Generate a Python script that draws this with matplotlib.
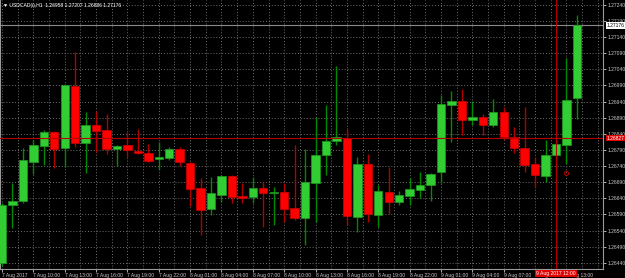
import matplotlib
matplotlib.use("Agg")
import matplotlib.pyplot as plt
import matplotlib.transforms as mtransforms
import numpy as np

# hourly USDCAD candles, 7 Aug 07:00 .. 9 Aug 14:00
opens = [1.26440, 1.26620, 1.26632, 1.26753, 1.26802, 1.26846, 1.26796, 1.26988,
         1.26812, 1.26868, 1.26852, 1.26793, 1.26806, 1.26787, 1.26781, 1.26762,
         1.26765, 1.26793, 1.26750, 1.26672, 1.26607, 1.26651, 1.26709, 1.26647,
         1.26644, 1.26672, 1.26657, 1.26660, 1.26610, 1.26579, 1.26688, 1.26775,
         1.26818, 1.26827, 1.26582, 1.26747, 1.26589, 1.26660, 1.26629, 1.26647,
         1.26666, 1.26682, 1.26722, 1.26930, 1.26942, 1.26883, 1.26892, 1.26868,
         1.26908, 1.26830, 1.26796, 1.26747, 1.26709, 1.26775, 1.26806, 1.26950]
highs = [1.26626, 1.26688, 1.26796, 1.26821, 1.26852, 1.26849, 1.26995, 1.27094,
         1.26908, 1.26911, 1.26902, 1.26806, 1.26846, 1.26855, 1.26809, 1.26815,
         1.26799, 1.26799, 1.26753, 1.26703, 1.26706, 1.26713, 1.26713, 1.26688,
         1.26706, 1.26694, 1.26675, 1.26688, 1.26806, 1.26793, 1.26892, 1.26930,
         1.27050, 1.26855, 1.26768, 1.26778, 1.26682, 1.26737, 1.26663, 1.26703,
         1.26722, 1.26719, 1.26961, 1.26973, 1.26979, 1.26942, 1.26902, 1.26948,
         1.26923, 1.26861, 1.26923, 1.26768, 1.26821, 1.26812, 1.27075, 1.27207]
lows = [1.26430, 1.26548, 1.26626, 1.26716, 1.26744, 1.26734, 1.26737, 1.26799,
        1.26719, 1.26784, 1.26778, 1.26740, 1.26768, 1.26778, 1.26753, 1.26728,
        1.26759, 1.26740, 1.26616, 1.26527, 1.26589, 1.26629, 1.26626, 1.26626,
        1.26626, 1.26551, 1.26557, 1.26567, 1.26573, 1.26496, 1.26567, 1.26713,
        1.26806, 1.26557, 1.26536, 1.26567, 1.26551, 1.26592, 1.26620, 1.26620,
        1.26641, 1.26632, 1.26688, 1.26815, 1.26837, 1.26868, 1.26837, 1.26861,
        1.26821, 1.26781, 1.26722, 1.26672, 1.26691, 1.26771, 1.26747, 1.26886]
closes = [1.26620, 1.26632, 1.26759, 1.26806, 1.26846, 1.26793, 1.26992, 1.26812,
          1.26868, 1.26849, 1.26793, 1.26802, 1.26790, 1.26781, 1.26756, 1.26768,
          1.26793, 1.26753, 1.26669, 1.26604, 1.26657, 1.26709, 1.26644, 1.26641,
          1.26672, 1.26657, 1.26660, 1.26607, 1.26579, 1.26691, 1.26775, 1.26818,
          1.26830, 1.26585, 1.26747, 1.26592, 1.26663, 1.26629, 1.26651, 1.26669,
          1.26682, 1.26716, 1.26933, 1.26942, 1.26883, 1.26892, 1.26868, 1.26908,
          1.26830, 1.26796, 1.26744, 1.26713, 1.26775, 1.26809, 1.26945, 1.27176]

price_levels = [1.26440, 1.26490, 1.26540, 1.26590, 1.26640, 1.26690, 1.26740,
                1.26790, 1.26840, 1.26890, 1.26940, 1.26990, 1.27040, 1.27090,
                1.27140, 1.27190, 1.27240]
time_labels = ["7 Aug 2017", "7 Aug 10:00", "7 Aug 13:00", "7 Aug 16:00",
               "7 Aug 19:00", "7 Aug 22:00", "8 Aug 01:00", "8 Aug 04:00",
               "8 Aug 07:00", "8 Aug 10:00", "8 Aug 13:00", "8 Aug 16:00",
               "8 Aug 19:00", "8 Aug 22:00", "9 Aug 01:00", "9 Aug 04:00",
               "9 Aug 07:00", "9 Aug 10:00", "9 Aug 13:00"]
title = "USDCAD(i),H1  1.26958 1.27207 1.26886 1.27176"
bid_price = 1.27176
cross_price = 1.26827
cross_bar = 53
cross_time = "9 Aug 2017 12:00"
arrow_bar = 54
arrow_price = 1.26719

BG = "black"
FG = "#c8c8c8"
GRID = "#6e6e6e"
CROSS = "#b40000"
FONT = ["Liberation Sans Narrow", "Liberation Sans", "DejaVu Sans"]
FS = 3.6

plt.rcParams["font.family"] = FONT

fig = plt.figure(figsize=(6.25, 2.78), dpi=100, facecolor=BG)
ax = fig.add_axes([0.0, 9 / 278, 603 / 625, 1 - 9 / 278], facecolor=BG)

o = np.array(opens)
h = np.array(highs)
l = np.array(lows)
c = np.array(closes)
x = np.arange(len(o))
up = c >= o

# grid
for p in price_levels:
    ax.axhline(p, color=GRID, lw=0.7, ls=(0, (1, 2)), zorder=0)
for gx in np.arange(0, 58, 1.5):
    ax.axvline(gx, color=GRID, lw=0.7, ls=(0, (1, 2)), zorder=0)

# wicks
ax.vlines(x[up], l[up], h[up], color="#008c00", lw=1, zorder=2)
ax.vlines(x[~up], l[~up], h[~up], color="#b00000", lw=1, zorder=2)

# bodies
body = np.maximum(np.abs(c - o), 0.00003)
ax.bar(x[up], body[up], bottom=o[up], width=0.8, color="#32cd32",
       edgecolor="#1f9a1f", linewidth=0.5, zorder=3)
ax.bar(x[~up], body[~up], bottom=c[~up], width=0.8, color="#ff0000",
       edgecolor="#d00000", linewidth=0.5, zorder=3)

# bid line and crosshair
ax.axhline(bid_price, color="#8a8a8a", lw=0.8, zorder=1)
ax.axhline(cross_price, color=CROSS, lw=0.8, zorder=4)
ax.axvline(cross_bar, color=CROSS, lw=0.8, zorder=4)
ax.plot(arrow_bar, arrow_price, marker="o", ms=3, mfc="none", mec="#c00000",
        mew=0.7, zorder=4)

ax.set_xlim(-0.19, 57.5)
ax.set_ylim(1.26421, 1.27255)

for s in ["left", "right", "bottom"]:
    ax.spines[s].set_color("#9a9a9a")
    ax.spines[s].set_linewidth(0.8)
ax.spines["top"].set_visible(False)

ax.yaxis.tick_right()
ax.set_yticks(price_levels)
ax.set_yticklabels([f"{p:.5f}" for p in price_levels])
ax.tick_params(axis="y", colors=FG, labelsize=FS, length=2, pad=1.5, width=0.6)
ax.set_xticks(np.arange(0, 3 * len(time_labels), 3))
ax.set_xticklabels(time_labels, ha="left")
ax.tick_params(axis="x", colors=FG, labelsize=FS, length=2, pad=1, width=0.6)

# value boxes on the axes
ytr = mtransforms.blended_transform_factory(ax.transAxes, ax.transData)
ax.text(1.006, bid_price, f"{bid_price:.5f}", transform=ytr, fontsize=FS,
        color="black", va="center", ha="left",
        bbox=dict(boxstyle="square,pad=0.15", fc="white", ec="none"))
ax.text(1.006, cross_price, f"{cross_price:.5f}", transform=ytr, fontsize=FS,
        color="white", va="center", ha="left",
        bbox=dict(boxstyle="square,pad=0.15", fc="#e00000", ec="none"))
xtr = mtransforms.blended_transform_factory(ax.transData, ax.transAxes)
ax.text(cross_bar, -0.008, cross_time, transform=xtr, fontsize=FS,
        color="white", va="top", ha="center", zorder=10,
        bbox=dict(boxstyle="square,pad=0.15", fc="#e00000", ec="none"))

fig.text(3 / 625, 1 - 5 / 278, "\u25bc " + title, fontsize=3.6, color="white",
         va="center", ha="left")

fig.savefig("out.png", dpi=100, facecolor=BG)
